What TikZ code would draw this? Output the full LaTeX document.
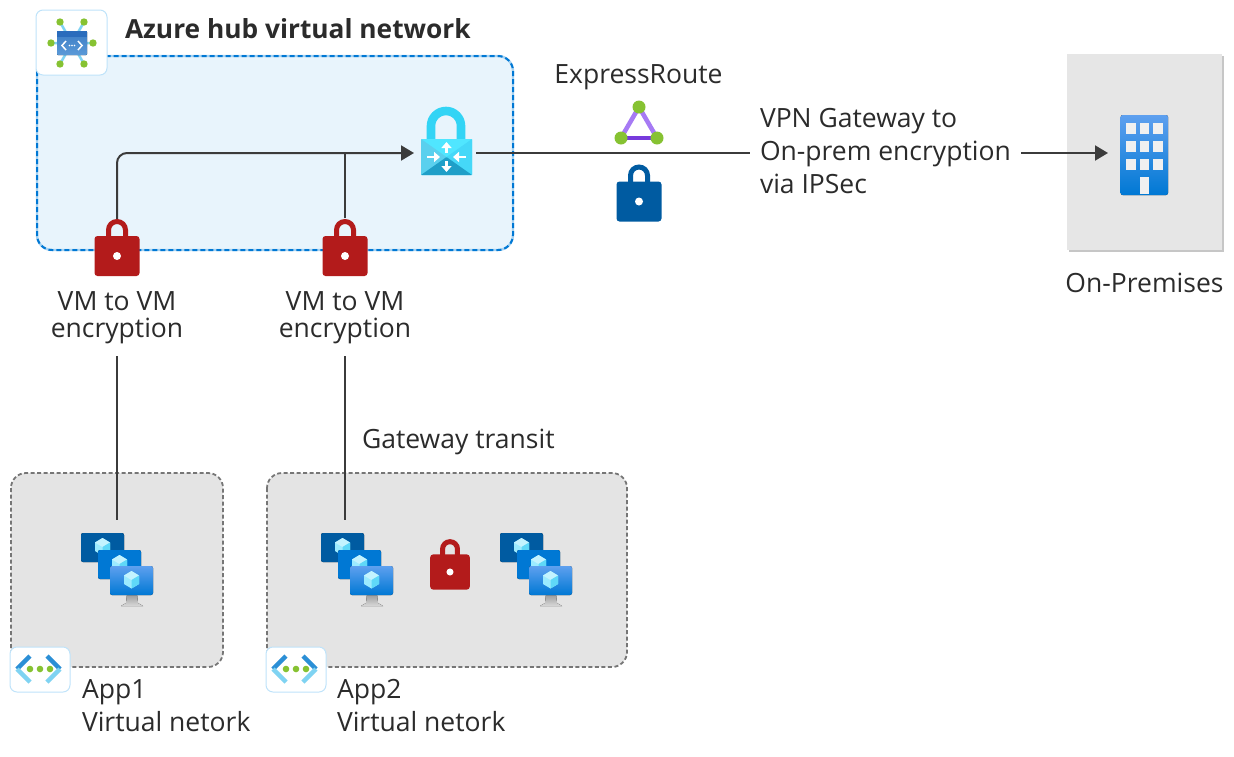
\documentclass[tikz,border=0pt]{standalone}
\usepackage{fontspec}
\setmainfont{Open Sans}
\usetikzlibrary{arrows.meta}
\definecolor{linec}{HTML}{3B3B3B}
\definecolor{txt}{HTML}{2B2B2B}
\definecolor{lockred}{HTML}{B31B1B}
\definecolor{lockblue}{HTML}{005BA1}
\definecolor{hubfill}{HTML}{E8F4FC}
\definecolor{hubdash}{HTML}{0078D4}
\definecolor{hubhalo}{HTML}{A6D2F2}
\definecolor{grayfill}{HTML}{E4E4E4}
\definecolor{premfill}{HTML}{E6E6E6}
\definecolor{premshadow}{HTML}{C6C6C6}
\definecolor{grayline}{HTML}{767676}
\definecolor{greendot}{HTML}{86C232}
\definecolor{iconedge}{HTML}{BFE3FA}
\definecolor{navy}{HTML}{005BA1}
\definecolor{azure}{HTML}{0078D4}
\definecolor{skyb}{HTML}{5EA0EF}
\definecolor{paleb}{HTML}{7FD3F2}
\definecolor{chevb}{HTML}{2B8FD6}
\definecolor{cubetop}{HTML}{C3F3FF}
\definecolor{cubeleft}{HTML}{9CEBFF}
\definecolor{cuberight}{HTML}{5FD8F8}
\definecolor{gwshackle}{HTML}{32D4F5}
\definecolor{gwtop}{HTML}{50E6FF}
\definecolor{gwleft}{HTML}{5AD0EE}
\definecolor{gwright}{HTML}{45D8F8}
\definecolor{gwbottom}{HTML}{1F9FC8}
\definecolor{erlight}{HTML}{A67AF4}
\definecolor{erdark}{HTML}{773ADC}
\definecolor{hubhead}{HTML}{2A6CBC}
\definecolor{hubtop}{HTML}{3B7CC4}
\definecolor{hubbot}{HTML}{5B9AD8}
\definecolor{windowc}{HTML}{F0F0F0}
\tikzset{
  x=1pt,y=-1pt,
  conn/.style={draw=linec,line width=2pt},
  arrowed/.style={conn,-{Triangle[length=13pt,width=15pt]}},
  lbl/.style={font=\fontsize{26.5pt}{33pt}\selectfont,text=txt,inner sep=0pt,outer sep=0pt},
  lblc/.style={lbl,align=center,anchor=base},
  lbll/.style={lbl,align=left,anchor=base west},
  iconbox/.style={draw=iconedge,line width=1pt,fill=white,rounded corners=7pt},
  vnetbox/.style={fill=grayfill,draw=grayline,line width=1.8pt,dash pattern=on 4pt off 2.5pt,rounded corners=15pt},
  whitearrow/.style={draw=white,line width=2.6pt,-{Triangle[length=6pt,width=10pt]}},
  pics/lockicon/.style={code={
    \draw[#1,line width=5pt] (-8.5,-18) -- (-8.5,-26) arc[start angle=180,end angle=360,radius=8.5] -- (8.5,-18);
    \fill[#1,rounded corners=3pt] (-22.5,-20) rectangle (22.5,20);
    \fill[white] (0,0) circle[radius=4];
  }},
  pics/vmunit/.style 2 args={code={
    \fill[top color=#1,bottom color=#2,rounded corners=2pt] (0,0) rectangle (43,29);
    \fill[cubeleft] (21.5,5) -- (29,9.5) -- (29,18) -- (21.5,22.5) -- (14,18) -- (14,9.5) -- cycle;
    \fill[cubetop] (21.5,5) -- (29,9.5) -- (21.5,14) -- (14,9.5) -- cycle;
    \fill[cuberight] (21.5,14) -- (29,9.5) -- (29,18) -- (21.5,22.5) -- cycle;
  }},
  pics/vmstack/.style={code={
    \pic at (0,0) {vmunit={navy}{navy}};
    \pic at (17,17) {vmunit={azure}{azure}};
    \fill[top color=gray!80,bottom color=gray!30] (46,61) -- (56,61) -- (57,70) -- (62,73) -- (40,73) -- (45,70) -- cycle;
    \pic at (29,33) {vmunit={skyb}{azure}};
  }},
  pics/vneticon/.style={code={
    \draw[iconbox] (0,0) rectangle (60,45);
    \draw[line width=4.5pt,chevb] (20,9) -- (7,22);
    \draw[line width=4.5pt,paleb] (7,22) -- (20,35);
    \draw[line width=4.5pt,chevb] (37,9) -- (50,22);
    \draw[line width=4.5pt,paleb] (50,22) -- (37,35);
    \foreach \d in {20,30,40} \fill[greendot] (\d,22) circle[radius=3.3];
  }}
}
\begin{document}
\begin{tikzpicture}
\useasboundingbox (0,0) rectangle (1234,756);
% containers
\path[fill=hubfill,rounded corners=15pt] (37,56) rectangle (513,250);
\draw[hubhalo,line width=2.4pt,rounded corners=15pt] (37,56) rectangle (513,250);
\draw[hubdash,line width=2pt,dash pattern=on 5pt off 3pt,rounded corners=15pt] (37,56) rectangle (513,250);
\fill[premshadow] (1069,56) rectangle (1224,252);
\fill[premfill] (1067,54) rectangle (1222,250);
\draw[vnetbox] (11,473) rectangle (223,667);
\draw[vnetbox] (267,473) rectangle (627,667);

% anchors
\coordinate (a1top) at (117,220);
\coordinate (hubbend) at (117,153);
\coordinate (gwin) at (414,153);
\coordinate (a2top) at (345,218);
\coordinate (a2join) at (345,153);
\coordinate (gwout) at (476,153);
\coordinate (vpnin) at (750,153);
\coordinate (vpnout) at (1021,153);
\coordinate (bldin) at (1108,153);
\coordinate (enc1) at (117,356);
\coordinate (vm1) at (117,520);
\coordinate (enc2) at (345,356);
\coordinate (vm2) at (345,520);

% connectors
\draw[arrowed,rounded corners=10pt] (a1top) -- (hubbend) -- (gwin);
\draw[conn] (a2top) -- (a2join);
\draw[conn] (gwout) -- (vpnin);
\draw[arrowed] (vpnout) -- (bldin);
\draw[conn] (enc1) -- (vm1);
\draw[conn] (enc2) -- (vm2);

% hub icon
\draw[iconbox] (36,10) rectangle (107,75);
\draw[paleb,line width=2.5pt] (60,22) -- (84,64) (84,22) -- (60,64) (51,43) -- (93,43);
\foreach \p in {(60,22),(84,22),(51,43),(93,43),(60,64),(84,64)} \fill[greendot] \p circle[radius=3.7];
\fill[top color=hubtop,bottom color=hubbot,rounded corners=1pt] (57,31) rectangle (87,55);
\fill[hubhead] (57,31) rectangle (87,37);
\draw[white,line width=1.5pt] (66,41) -- (62,45.5) -- (66,50) (78,41) -- (82,45.5) -- (78,50);
\foreach \d in {69.5,72,74.5} \fill[white] (\d,45.5) circle[radius=.8];

% gateway
\draw[gwshackle,line width=8.6pt] (431,141) -- (431,126) arc[start angle=180,end angle=360,radius=15] -- (461,141);
\fill[gwtop,rounded corners=1pt] (421,139) rectangle (472,175);
\fill[gwleft] (421,139) -- (446.5,157) -- (421,175) -- cycle;
\fill[gwright] (472,139) -- (446.5,157) -- (472,175) -- cycle;
\fill[gwbottom,rounded corners=.5pt] (421,175) -- (446.5,157) -- (472,175) -- cycle;
\draw[whitearrow] (446.5,153) -- (446.5,142);
\draw[whitearrow] (446.5,161) -- (446.5,172);
\draw[whitearrow] (427,157) -- (440,157);
\draw[whitearrow] (466,157) -- (453,157);

% expressroute
\draw[erlight,line width=4.5pt] (621,138) -- (639,107) -- (657,138);
\draw[erdark,line width=4.5pt] (621,138) -- (657,138);
\foreach \p in {(639,107),(621,138),(657,138)} \fill[greendot] \p circle[radius=6.5];

% locks
\pic at (117,256) {lockicon=lockred};
\pic at (345,256) {lockicon=lockred};
\pic at (639,201.5) {lockicon=lockblue};
\pic[scale=.88] at (450,572) {lockicon=lockred};

% vms
\pic at (81,533) {vmstack};
\pic at (321,533) {vmstack};
\pic at (500,533) {vmstack};
\pic at (10,647) {vneticon};
\pic at (266,647) {vneticon};

% building
\fill[top color=skyb,bottom color=azure,rounded corners=2pt] (1120.7,115) rectangle (1168,195);
\foreach \cx in {1126,1139.5,1153} \foreach \cy in {123,141,159}
  \fill[windowc] (\cx,\cy) rectangle +(9.5,11);
\fill[windowc] (1139.5,177) rectangle (1149,194);

% labels
\node[lbll,font=\fontsize{26.3pt}{33pt}\selectfont\bfseries] (hubt) at (125,38) {Azure hub virtual network};
\node[lblc] (t1) at (117,337) {VM to VM\\[-6pt]encryption};
\node[lblc] (t2) at (345,337) {VM to VM\\[-6pt]encryption};
\node[lblc] (er) at (638.5,83) {ExpressRoute};
\node[lbll] (vpn) at (760,193) {VPN Gateway to\\On-prem encryption\\via IPSec};
\node[lblc] (op) at (1144.5,292) {On-Premises};
\node[lbll] (gt) at (362,448) {Gateway transit};
\node[lbll] (app1) at (82,731) {App1\\Virtual netork};
\node[lbll] (app2) at (337,731) {App2\\Virtual netork};
\end{tikzpicture}
\end{document}
